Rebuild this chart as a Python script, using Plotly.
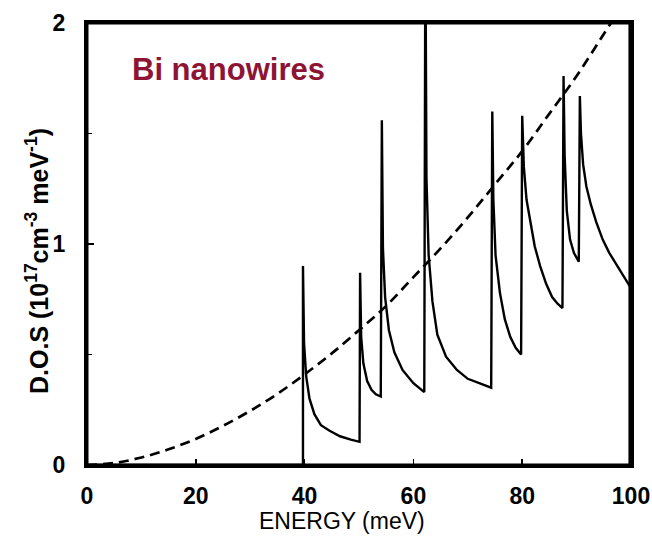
import plotly.graph_objects as go

# Density of states of Bi nanowires (solid)
dos_energy = [0.0, 39.7, 39.7, 39.9, 40.3, 40.9, 41.8, 43.0, 44.6, 46.5, 48.5, 50.1,
              50.2, 50.4, 50.8, 51.5, 52.3, 53.1, 54.0,
              54.2, 54.4, 54.8, 55.5, 56.5, 58.0, 60.0, 62.0,
              62.2, 62.4, 62.8, 63.5, 64.4, 66.0, 68.0, 70.0, 72.2, 74.3,
              74.5, 74.7, 75.1, 75.9, 76.8, 77.8, 78.8, 79.8,
              80.0, 80.3, 80.8, 81.4, 82.3, 83.3, 84.4, 85.5, 86.5, 87.4,
              87.6, 87.8, 88.2, 88.8, 89.5, 90.4,
              90.6, 90.8, 91.2, 91.8, 92.6, 93.6, 94.8, 96.0, 97.2, 98.5, 100.0]
dos_values = [0.0, 0.0, 0.90, 0.55, 0.40, 0.30, 0.23, 0.18, 0.155, 0.13, 0.115, 0.105,
              0.87, 0.58, 0.46, 0.38, 0.34, 0.32, 0.31,
              1.56, 0.98, 0.76, 0.61, 0.51, 0.43, 0.37, 0.33,
              2.40, 1.30, 0.95, 0.74, 0.59, 0.49, 0.43, 0.39, 0.37, 0.35,
              1.60, 1.20, 0.95, 0.78, 0.66, 0.58, 0.53, 0.50,
              1.58, 1.35, 1.20, 1.11, 0.99, 0.90, 0.82, 0.76, 0.73, 0.71,
              1.76, 1.40, 1.15, 1.02, 0.96, 0.92,
              1.67, 1.50, 1.36, 1.26, 1.18, 1.10, 1.02, 0.96, 0.91, 0.86, 0.80]

# Bulk DOS (dashed)
bulk_energy = [0, 5, 10, 15, 20, 25, 30, 35, 40, 45, 50, 55, 60, 65, 70, 75, 80, 85, 90, 95, 100]
bulk_values = [0.0, 0.009, 0.034, 0.071, 0.118, 0.177, 0.245, 0.322, 0.41, 0.505, 0.61,
               0.72, 0.85, 0.98, 1.12, 1.27, 1.42, 1.59, 1.76, 1.95, 2.14]

x_ticks = [0, 20, 40, 60, 80, 100]
y_ticks = [0, 1, 2]

fig = go.Figure()
fig.add_trace(go.Scatter(x=bulk_energy, y=bulk_values, mode="lines",
                         line=dict(color="black", width=2.7, dash="10px,6px", shape="spline"),
                         showlegend=False, hoverinfo="skip"))
fig.add_trace(go.Scatter(x=dos_energy, y=dos_values, mode="lines",
                         line=dict(color="black", width=2.4),
                         showlegend=False, hoverinfo="skip"))

W, H = 652, 538
plot_l, plot_r, plot_t, plot_b = 87, 631, 23, 465  # plot area in pixels

fig.update_layout(
    width=W, height=H,
    margin=dict(l=plot_l, r=W - plot_r, t=plot_t, b=H - plot_b, autoexpand=False),
    paper_bgcolor="white", plot_bgcolor="white",
    hovermode=False, dragmode=False,
    font=dict(family="Liberation Sans, Arial, sans-serif", color="black"),
    xaxis=dict(range=[0, 100], tickvals=x_ticks, ticktext=[str(v) for v in x_ticks],
               automargin=False, ticklabeloverflow="allow",
               showgrid=False, zeroline=False, showline=True, linecolor="black", linewidth=3,
               mirror=True, ticks="inside", ticklen=6, tickwidth=1.5, tickcolor="black",
               tickfont=dict(size=23, weight="bold"), ticklabelstandoff=8),
    yaxis=dict(range=[0, 2], tickvals=y_ticks, ticktext=[str(v) for v in y_ticks],
               automargin=False,
               showgrid=False, zeroline=False, showline=True, linecolor="black", linewidth=3,
               mirror=True, ticks="inside", ticklen=7, tickwidth=1.5, tickcolor="black",
               tickfont=dict(size=23, weight="bold"), ticklabelstandoff=14,
               minor=dict(dtick=0.5, ticks="inside", ticklen=5, tickwidth=1.5, tickcolor="black", showgrid=False)),
    shapes=[
        dict(type="rect", xref="paper", yref="paper", x0=0, x1=1, y0=0, y1=1,
             line=dict(color="black", width=3), fillcolor="rgba(0,0,0,0)", layer="above"),
        dict(type="line", xref="paper", yref="paper", x0=0.998, x1=0.998, y0=0, y1=1,
             line=dict(color="black", width=3), layer="above"),
    ],
    annotations=[
        dict(text="Bi nanowires", x=130, y=70, showarrow=False,
             xanchor="left", yanchor="middle",
             font=dict(size=31, weight="bold", color="#8E1436")),
        dict(text="ENERGY (meV)", x=342, y=521, showarrow=False,
             xanchor="center", yanchor="middle",
             font=dict(size=23)),
        dict(text="D.O.S (10<sup>17</sup>cm<sup>-3</sup> meV<sup>-1</sup>)", x=37, y=261,
             textangle=-90, showarrow=False, xanchor="center", yanchor="middle",
             font=dict(size=25, weight="bold")),
    ],
)

# convert pixel positions of annotations to paper coordinates
for ann in fig.layout.annotations:
    px, py = ann.x, ann.y
    ann.x = (px - plot_l) / (plot_r - plot_l)
    ann.y = (plot_b - py) / (plot_b - plot_t)
    ann.xref = "paper"
    ann.yref = "paper"

# remove the default page margin so the figure sits at the window's top-left corner
fig.write_html("out.html", config={"displayModeBar": False, "staticPlot": True},
               post_script="document.body.style.margin='0';document.body.style.overflow='hidden';")
